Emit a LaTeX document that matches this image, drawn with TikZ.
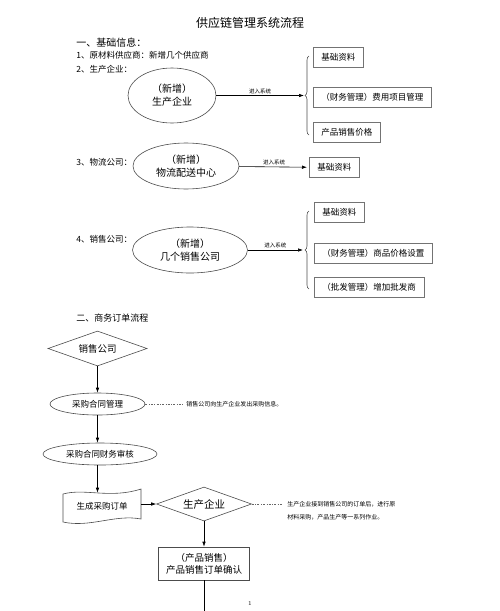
\documentclass[tikz,border=0pt]{standalone}
\usepackage{fontspec}
\newfontfamily\cjk{Noto Sans CJK SC}
\usetikzlibrary{shapes.geometric,arrows.meta,decorations.pathreplacing}
\begin{document}
\begin{tikzpicture}[x=1pt,y=-1pt,line width=0.6pt,
  every node/.style={inner sep=0pt},
  txt/.style={anchor=west,font=\cjk\fontsize{8.5}{10}\selectfont},
  oval/.style={draw=black!70,ellipse,align=center,font=\cjk\fontsize{10}{13}\selectfont},
  infobox/.style={draw=black!55,anchor=west,minimum height=20pt,inner xsep=8pt,font=\cjk\fontsize{8.5}{10}\selectfont},
  tag/.style={font=\cjk\fontsize{5.5}{6}\selectfont,above=1.5pt},
  arr/.style={-{Latex[length=5pt,width=3.5pt]}},
  curly/.style={decorate,decoration={brace,amplitude=4pt},draw=black!70},
  hintline/.style={draw=black!60,dash pattern=on 2pt off 1.5pt on 0.6pt off 1.5pt},
  note/.style={anchor=west,align=left,font=\cjk\fontsize{6}{13}\selectfont},
  flowoval/.style={draw=black!70,ellipse,minimum height=22pt,font=\cjk\fontsize{8.5}{10}\selectfont},
  flowdia/.style={draw=black!70,diamond,aspect=2.8}]
  \useasboundingbox (0,0) rectangle (500,611);
  \node[font=\cjk\fontsize{12}{12}\selectfont] (title) at (250,23) {供应链管理系统流程};
  \node[txt,font=\cjk\fontsize{10}{10}\selectfont] (h1) at (76,43) {一、基础信息：};
  \node[txt] (i1) at (76,55) {1、原材料供应商：新增几个供应商};
  \node[txt] (i2) at (76,69) {2、生产企业：};
  \node[oval,minimum width=88pt,minimum height=55pt] (e1) at (172,95.5) {（新增）\\生产企业};
  \coordinate (b1) at (304,95.5);
  \draw[curly] (309,135) -- (309,56);
  \draw[arr] (e1) -- node[tag] {进入系统} (b1);
  \node[infobox] (p1) at (313,57) {基础资料};
  \node[infobox] (p2) at (313,97) {（财务管理）费用项目管理};
  \node[infobox] (p3) at (313,132) {产品销售价格};

  \node[txt] (i3) at (76,162) {3、物流公司：};
  \node[oval,minimum width=106pt,minimum height=46pt] (e2) at (186,166) {（新增）\\物流配送中心};
  \node[infobox] (l1) at (309,167.5) {基础资料};
  \draw[arr,shorten >=2pt] (e2) -- node[tag] {进入系统} (l1);

  \node[txt] (i4) at (76,239) {4、销售公司：};
  \node[oval,minimum width=115pt,minimum height=46pt] (e3) at (190,250) {（新增）\\几个销售公司};
  \coordinate (b2) at (303,250);
  \draw[curly] (309,289) -- (309,211);
  \draw[arr] (e3) -- node[tag] {进入系统} (b2);
  \node[infobox] (s1) at (314,212) {基础资料};
  \node[infobox] (s2) at (314,253) {（财务管理）商品价格设置};
  \node[infobox] (s3) at (314,287) {（批发管理）增加批发商};

  \node[txt,font=\cjk\fontsize{9}{9}\selectfont] (h2) at (76,318) {二、商务订单流程};
  \node[flowdia,minimum width=99pt,minimum height=35pt,font=\cjk\fontsize{9.5}{10}\selectfont] (sale) at (97.5,348.5) {销售公司};
  \node[flowoval,minimum width=95pt] (pur) at (97.5,404) {采购合同管理};
  \node[flowoval,minimum width=114pt] (aud) at (100,454) {采购合同财务审核};
  \node[minimum width=78pt,minimum height=26pt,font=\cjk\fontsize{8.5}{10}\selectfont] (ord) at (102,506) {生成采购订单};
  \draw[draw=black!70] (63,494) .. controls (85,488) and (110,499) .. (141,489) -- (141,519)
    .. controls (115,514) and (90,528) .. (63,522) -- cycle;
  \node[flowdia,minimum width=95pt,minimum height=34pt,font=\cjk\fontsize{10.5}{11}\selectfont] (pe) at (204,504) {生产企业};
  \node[draw=black!70,minimum width=91pt,minimum height=33pt,align=center,font=\cjk\fontsize{9.5}{12}\selectfont] (conf) at (204,563.5) {（产品销售）\\产品销售订单确认};
  \coordinate (cut) at (204,611);
  \draw[arr] (sale) -- (pur);
  \draw[arr] (pur.south) -- (pur.south |- aud.north);
  \draw[arr] (aud.south -| pur) -- (pur |- ord.north);
  \draw[arr] (ord.east |- pe) -- (pe.west);
  \draw[arr] (pe) -- (conf);
  \draw (conf) -- (cut);
  \node[note] (n1) at (186,404) {销售公司向生产企业发出采购信息。};
  \draw[hintline,shorten >=3pt] (pur) -- (n1.west);
  \node[note] (n2) at (287,510.5) {生产企业接到销售公司的订单后，进行原\\材料采购，产品生产等一系列作业。};
  \draw[hintline] (pe.east) -- ([xshift=-4pt]pe.east -| n2.west);
  \node[font=\fontsize{6}{6}\selectfont] (pg) at (250,603) {1};
\end{tikzpicture}
\end{document}
